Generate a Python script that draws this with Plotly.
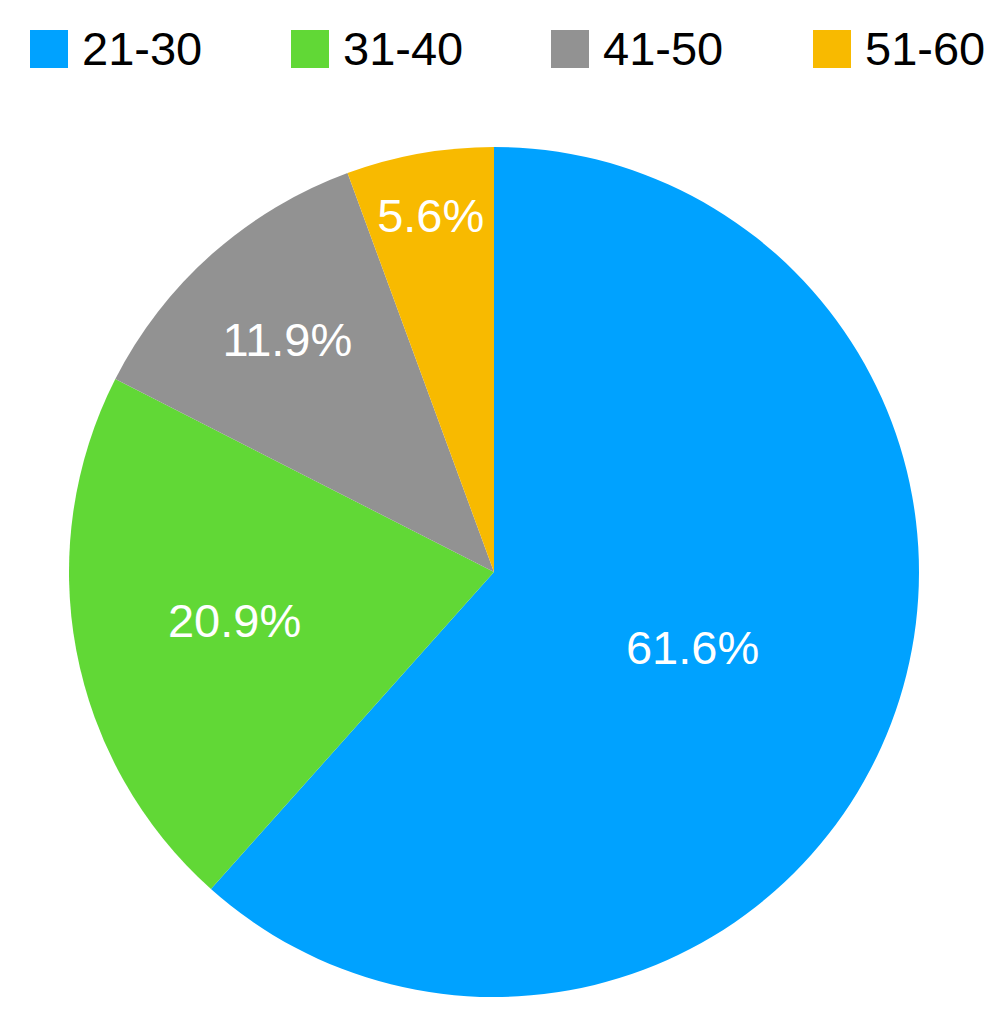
import plotly.graph_objects as go

categories = ["21-30", "31-40", "41-50", "51-60"]
values = [61.6, 20.9, 11.9, 5.6]
colors = ["#00A2FF", "#61D836", "#929292", "#F8BA00"]

W, H = 1000, 1020
OFF = 8  # page body margin offset
FONT = "Liberation Sans, Arial, sans-serif"


def px(x):
    return (x - OFF) / W


def py(y):
    return 1 - (y - OFF) / H


cx, cy, R = 494, 572, 425

fig = go.Figure()
fig.add_trace(go.Pie(
    labels=categories,
    values=values,
    marker=dict(colors=colors, line=dict(width=0)),
    sort=False,
    direction="clockwise",
    rotation=0,
    texttemplate="%{percent:.1%}",
    textposition="inside",
    insidetextorientation="horizontal",
    insidetextfont=dict(color="white", size=47, family=FONT),
    showlegend=False,
    hoverinfo="label+percent",
    domain=dict(x=[px(cx - R), px(cx + R)],
                y=[py(cy + R), py(cy - R)]),
))

# custom legend (large square swatches)
leg_x0 = [30, 291, 551, 813]
sq = 38
leg_yc = 49
for i, (cat, col) in enumerate(zip(categories, colors)):
    x0 = leg_x0[i]
    fig.add_shape(type="rect", xref="paper", yref="paper",
                  x0=px(x0), x1=px(x0 + sq),
                  y0=py(leg_yc + sq / 2), y1=py(leg_yc - sq / 2),
                  fillcolor=col, line=dict(width=0))
    fig.add_annotation(xref="paper", yref="paper",
                       x=px(x0 + sq + 12), y=py(leg_yc),
                       xanchor="left", yanchor="middle", showarrow=False,
                       text=cat, font=dict(size=47, color="black", family=FONT))

fig.update_layout(
    width=W, height=H,
    margin=dict(l=0, r=0, t=0, b=0),
    paper_bgcolor="white",
    plot_bgcolor="white",
    font=dict(family=FONT),
)

fig.write_html("out.html")
